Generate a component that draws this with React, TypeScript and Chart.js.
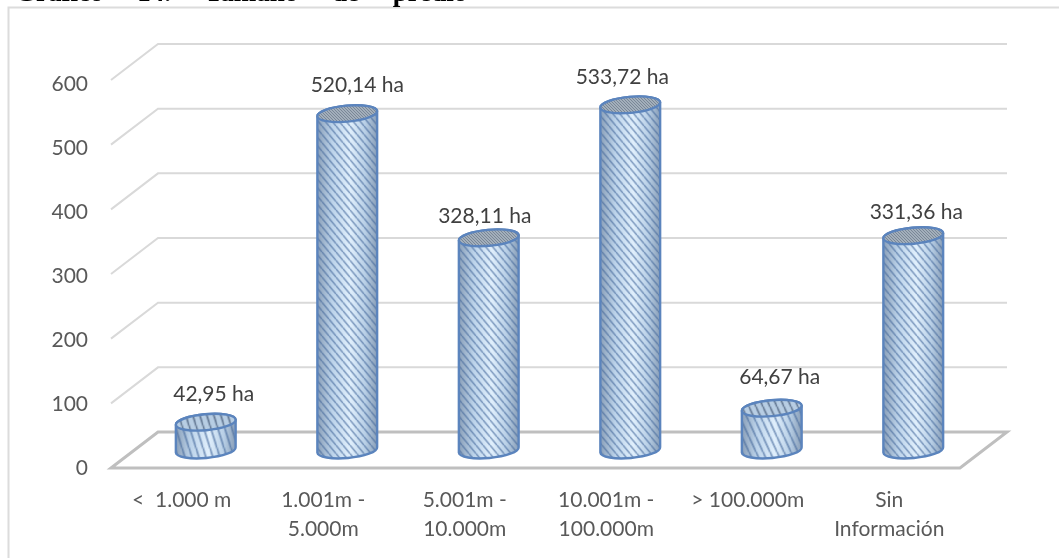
import React, { useEffect, useRef } from "react";
import { Chart, registerables } from "chart.js";

Chart.register(...registerables);

const categories: string[][] = [
  ["<  1.000 m"],
  ["1.001m -", "5.000m"],
  ["5.001m -", "10.000m"],
  ["10.001m -", "100.000m"],
  ["> 100.000m"],
  ["Sin", "Información"],
];
const hectares = [42.95, 520.14, 328.11, 533.72, 64.67, 331.36];
const valueLabels = ["42,95 ha", "520,14 ha", "328,11 ha", "533,72 ha", "64,67 ha", "331,36 ha"];
const labelNudgeX = [8, 10, -4, -8, 8, 3];
const labelGapY = [28, 28, 22, 28, 31, 23];
const yTicks = [0, 100, 200, 300, 400, 500, 600];
const titleText = "Gráfico 14. Tamaño de predio";

const FONT = "Lato, sans-serif";
const DEPTH_X = 47;
const DEPTH_Y = -36;
const BAR_DX = 24;
const BAR_DY = -18;
const RX = 30;
const RY = 8;
const ROT = -0.09;

function makeHatch(ctx: CanvasRenderingContext2D, color: string, pitch: number, width: number, scaleY: number) {
  const c = document.createElement("canvas");
  c.width = pitch;
  c.height = pitch;
  const p = c.getContext("2d")!;
  p.strokeStyle = color;
  p.lineWidth = width;
  for (let i = -1; i <= 1; i++) {
    p.beginPath();
    p.moveTo(i * pitch, 0);
    p.lineTo(i * pitch + pitch, pitch);
    p.stroke();
  }
  const pat = ctx.createPattern(c, "repeat")!;
  pat.setTransform(new DOMMatrix().scale(1, scaleY));
  return pat;
}

const wallPlugin = {
  id: "wall",
  beforeDraw(chart: any) {
    const y = chart.scales.y;
    y.getLabelItems().forEach((item: any, i: number) => {
      const t = item.options.translation;
      if (!item.__moved) {
        item.options.translation = [t[0], t[1] + (yTicks[i] ?? 0) / 150];
        item.__moved = true;
      }
    });
  },
  beforeDatasetsDraw(chart: any) {
    const { ctx, chartArea: a, scales } = chart;
    const y = scales.y;
    ctx.save();
    // outer frame
    ctx.strokeStyle = "#dcdcdc";
    ctx.lineWidth = 2;
    ctx.beginPath();
    ctx.moveTo(8.5, 560);
    ctx.lineTo(8.5, 7.5);
    ctx.lineTo(1060, 7.5);
    ctx.stroke();
    // title clipped by the top of the page
    ctx.fillStyle = "#000";
    ctx.font = "bold 27px 'Liberation Serif', serif";
    ctx.textAlign = "left";
    ctx.textBaseline = "alphabetic";
    ctx.wordSpacing = "27px";
    ctx.fillText(titleText, 15, 0.7);
    ctx.wordSpacing = "0px";
    // back wall grid
    ctx.strokeStyle = "#d9d9d9";
    ctx.lineWidth = 2;
    yTicks.slice(1).forEach((t) => {
      const py = y.getPixelForValue(t);
      ctx.beginPath();
      ctx.moveTo(a.left, py);
      ctx.lineTo(a.left + DEPTH_X, py + DEPTH_Y);
      ctx.lineTo(a.right + DEPTH_X, py + DEPTH_Y);
      ctx.stroke();
    });
    // floor
    const p0 = y.getPixelForValue(0);
    ctx.strokeStyle = "#bfbfbf";
    ctx.lineWidth = 3;
    ctx.lineJoin = "miter";
    ctx.beginPath();
    ctx.moveTo(a.left, p0);
    ctx.lineTo(a.left + DEPTH_X, p0 + DEPTH_Y);
    ctx.lineTo(a.right + DEPTH_X, p0 + DEPTH_Y);
    ctx.lineTo(a.right, p0);
    ctx.closePath();
    ctx.stroke();
    ctx.restore();
  },
};

const cylinderPlugin = {
  id: "cylinder",
  afterDatasetsDraw(chart: any) {
    const { ctx } = chart;
    const meta = chart.getDatasetMeta(0);
    meta.data.forEach((bar: any, i: number) => {
      const cx = bar.x + BAR_DX;
      const top = bar.y + BAR_DY;
      const bottom = bar.base + BAR_DY;
      const h = bottom - top;
      const stretch = Math.max(1.2, Math.min(3.2, 90 / h));
      const side = () => {
        ctx.beginPath();
        ctx.ellipse(cx, bottom, RX, RY, ROT, 0, Math.PI);
        ctx.ellipse(cx, top, RX, RY, ROT, Math.PI, Math.PI * 2);
        ctx.closePath();
      };
      const grad = ctx.createLinearGradient(cx - RX, 0, cx + RX, 0);
      grad.addColorStop(0, "#8a9fb8");
      grad.addColorStop(0.25, "#bcd3ea");
      grad.addColorStop(0.55, "#e0effc");
      grad.addColorStop(0.8, "#b8cfe6");
      grad.addColorStop(1, "#889db6");
      ctx.save();
      side();
      ctx.fillStyle = grad;
      ctx.fill();
      ctx.fillStyle = makeHatch(ctx, "rgba(70,105,155,0.62)", 7, 1.4, stretch);
      ctx.fill();
      ctx.strokeStyle = "#5b84bd";
      ctx.lineWidth = 2.4;
      ctx.stroke();
      // cap
      ctx.beginPath();
      ctx.ellipse(cx, top, RX, RY, ROT, 0, Math.PI * 2);
      ctx.fillStyle = stretch > 1.5 ? "#b7cde3" : "#a3afbb";
      ctx.fill();
      ctx.fillStyle =
        stretch > 1.5
          ? makeHatch(ctx, "rgba(50,70,100,0.6)", 7, 1.3, stretch)
          : makeHatch(ctx, "rgba(85,100,120,0.6)", 3, 0.9, 1);
      ctx.fill();
      ctx.strokeStyle = "#5b84bd";
      ctx.lineWidth = 2.4;
      ctx.stroke();
      // value label
      ctx.fillStyle = "#404040";
      ctx.font = `21px ${FONT}`;
      ctx.textAlign = "center";
      ctx.textBaseline = "middle";
      ctx.fillText(valueLabels[i], cx + labelNudgeX[i], top - labelGapY[i]);
      ctx.restore();
    });
  },
};

export default function App() {
  const ref = useRef<HTMLCanvasElement>(null);
  useEffect(() => {
    const chart = new Chart(ref.current!, {
      type: "bar",
      data: {
        labels: categories as any,
        datasets: [
          {
            data: hectares,
            backgroundColor: "transparent",
            borderWidth: 0,
            barThickness: 60,
          },
        ],
      },
      options: {
        animation: false,
        responsive: false,
        devicePixelRatio: 1,
        layout: { padding: { left: 0, right: 99, top: 80, bottom: 0 } },
        plugins: { legend: { display: false }, tooltip: { enabled: false } },
        scales: {
          x: {
            grid: { display: false },
            border: { display: false },
            afterFit: (s: any) => {
              s.height = 90;
            },
            ticks: {
              color: "#595959",
              font: { family: FONT, size: 21, lineHeight: 1.38 },
              padding: 10,
              maxRotation: 0,
              autoSkip: false,
            },
          },
          y: {
            min: 0,
            max: 600,
            grid: { display: false },
            border: { display: false },
            afterFit: (s: any) => {
              s.width = 111;
            },
            ticks: {
              stepSize: 100,
              color: "#595959",
              font: { family: FONT, size: 21 },
              padding: 15,
            },
          },
        },
      } as any,
      plugins: [wallPlugin, cylinderPlugin],
    });
    return () => chart.destroy();
  }, []);
  return (
    <div style={{ position: "absolute", left: 0, top: 0, width: 1059, height: 558, background: "#fff", overflow: "hidden" }}>
      <canvas ref={ref} width={1059} height={558} style={{ display: "block" }} />
    </div>
  );
}
